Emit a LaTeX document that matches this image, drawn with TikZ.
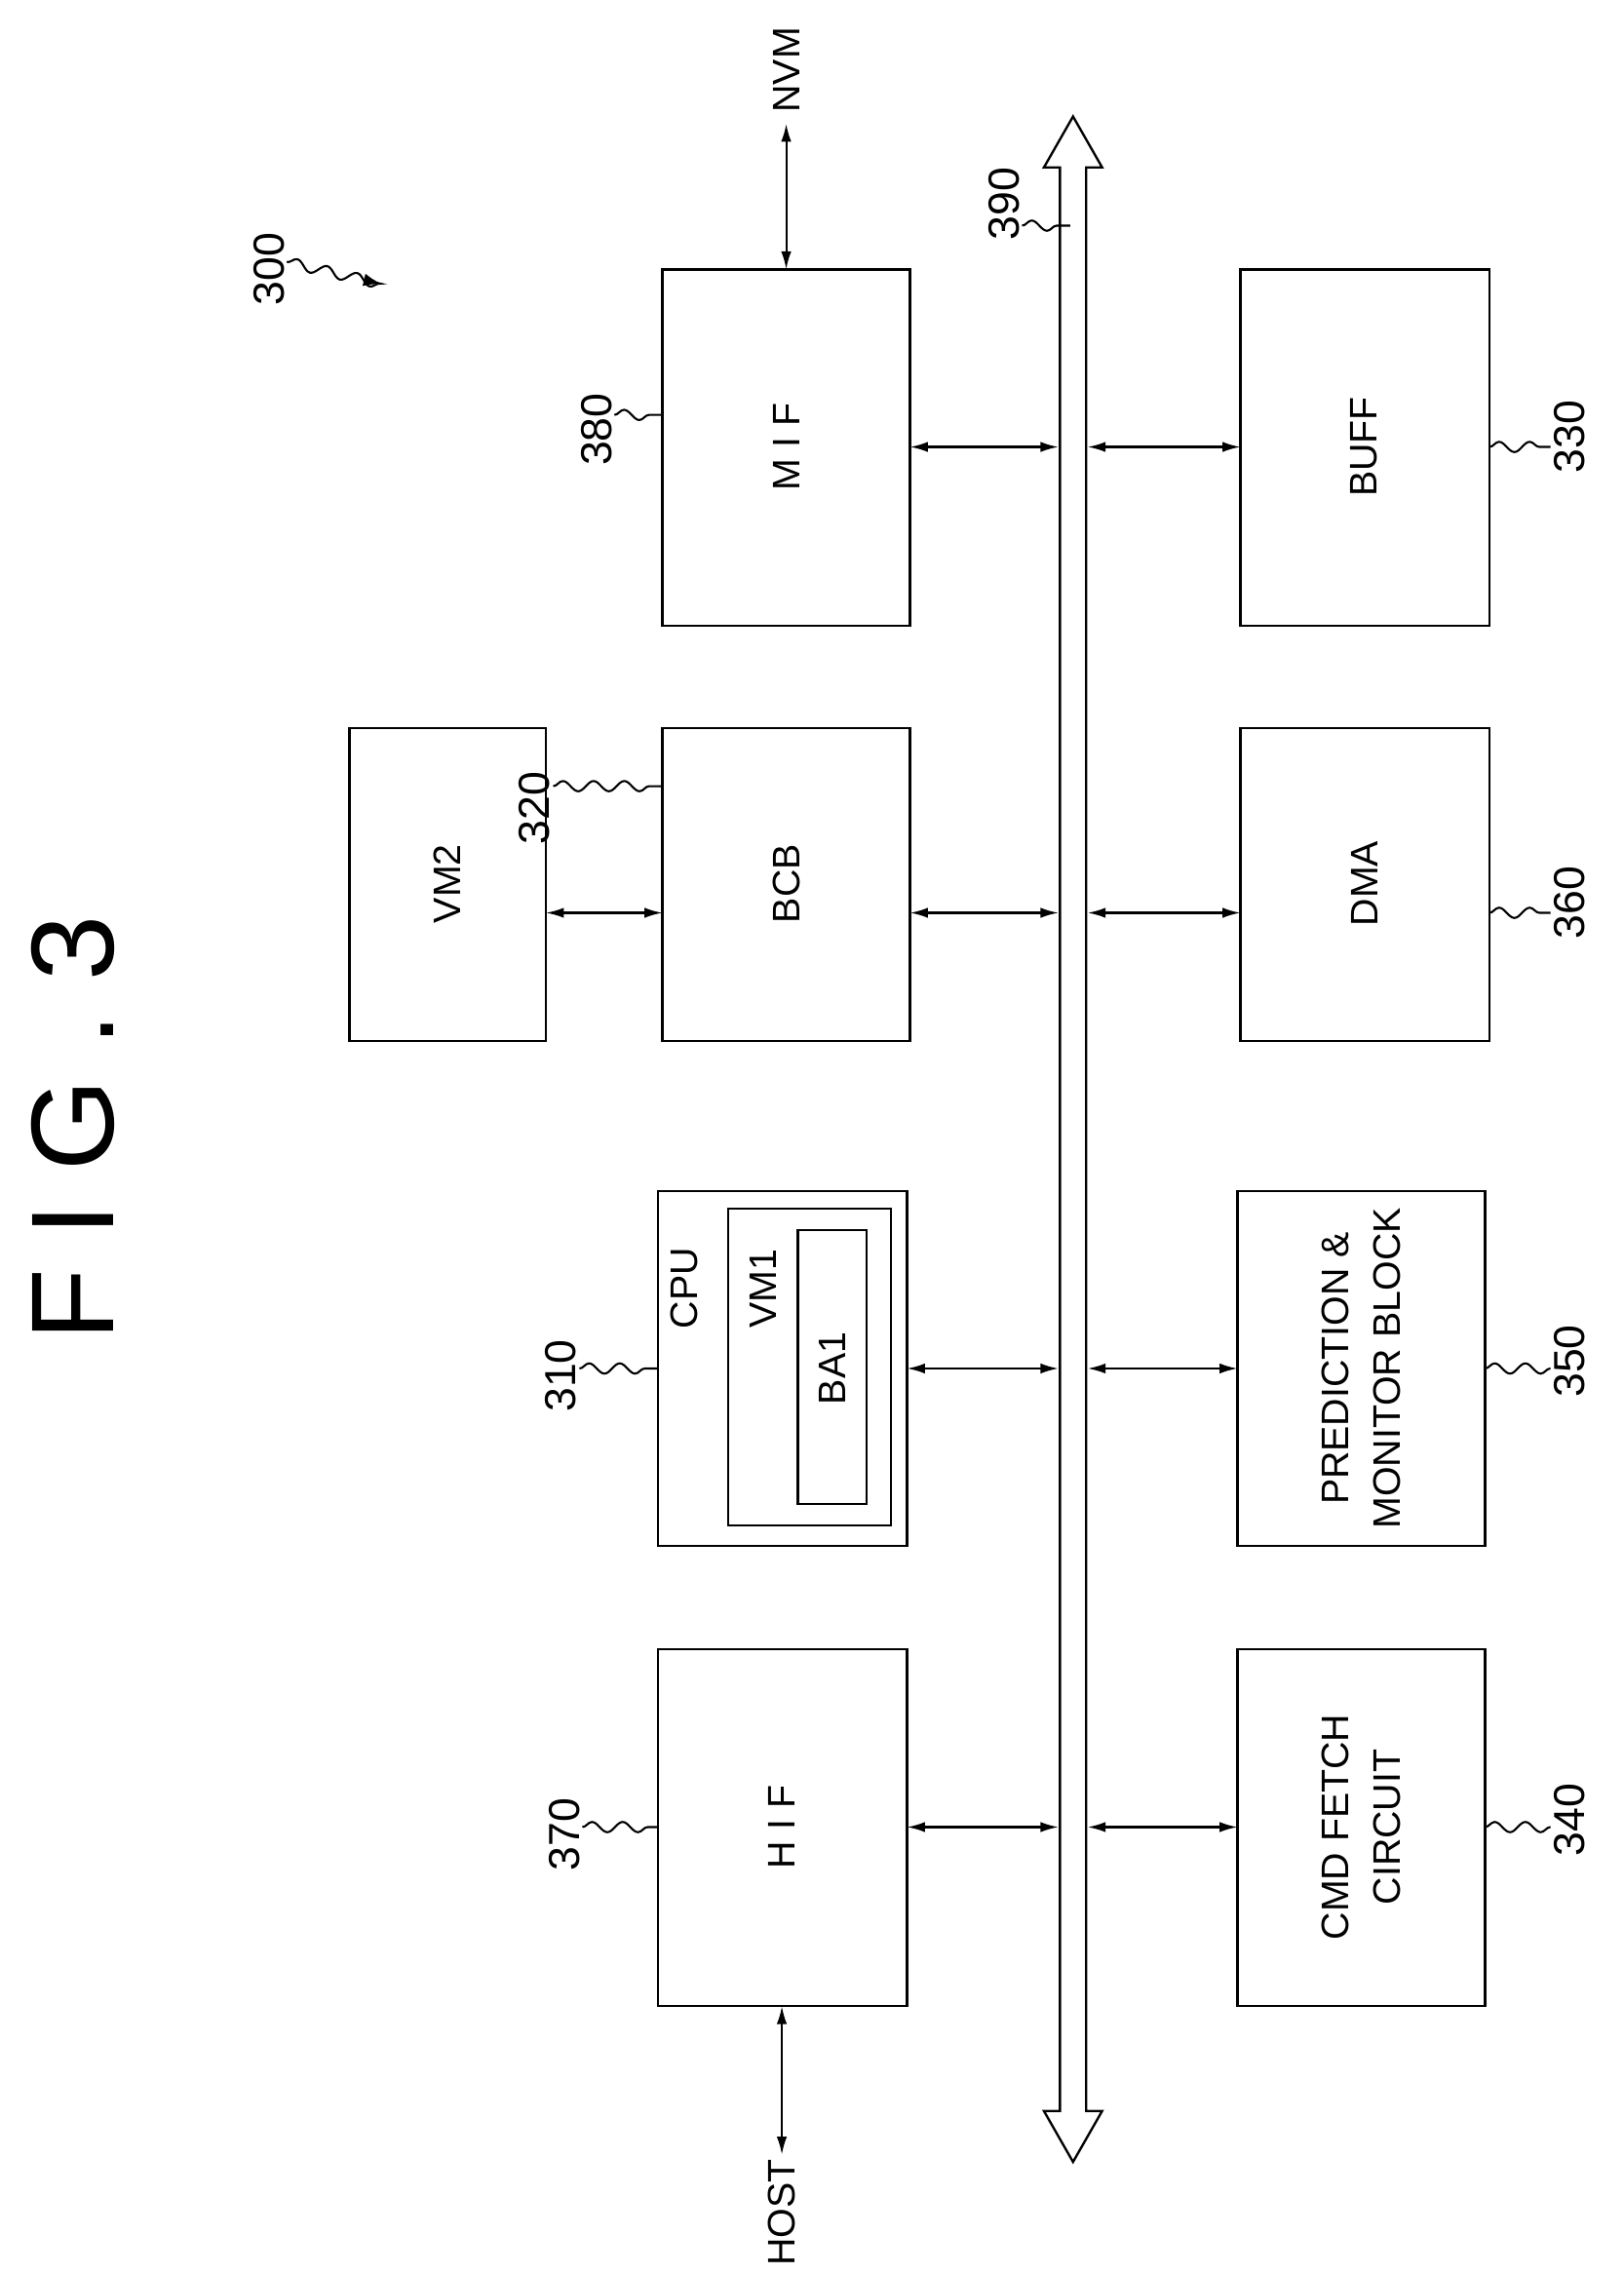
\documentclass[tikz,border=0pt]{standalone}
\usepackage{fontspec}
\setmainfont{Liberation Sans}
\usetikzlibrary{arrows.meta,decorations.pathmorphing}
\begin{document}
\begin{tikzpicture}[x=0.02cm,y=-0.02cm,
 box/.style={draw,line width=0.9pt},
 lbl/.style={rotate=90,font=\fontsize{17}{19}\selectfont},
 txt/.style={rotate=90,font=\fontsize{15}{20}\selectfont,align=center},
 arr/.style={{Latex[length=7pt,width=4pt]}-{Latex[length=7pt,width=4pt]},line width=0.8pt},
 sq/.style={decorate,decoration={snake,amplitude=2pt,segment length=12pt},line width=0.8pt}]
\useasboundingbox (0,0) rectangle (1115,1562);
\node[rotate=90,font=\fontsize{46}{50}\selectfont] (fig) at (50,775) {F I G . 3};
% boxes
\draw[box] (455,185) rectangle (625,430); \node[txt] (tmif) at (540,307) {M I F};
\draw[box] (852,185) rectangle (1023,430); \node[txt] (tbuff) at (937,307) {BUFF};
\draw[box] (240,500) rectangle (375,715); \node[txt] (tvm2) at (307,607) {VM2};
\draw[box] (455,500) rectangle (625,715); \node[txt] (tbcb) at (540,607) {BCB};
\draw[box] (852,500) rectangle (1023,715); \node[txt] (tdma) at (937,607) {DMA};
\draw[box] (452,818) rectangle (623,1062);
\draw[box] (500,830) rectangle (612,1048);
\draw[box] (548,845) rectangle (595,1033);
\node[txt] (tcpu) at (470,885) {CPU};
\node[txt] (tvm1) at (524,885) {VM1};
\node[txt] (tba1) at (572,940) {BA1};
\draw[box] (850,818) rectangle (1020,1062); \node[txt] (tpred) at (935,940) {PREDICTION \&\\MONITOR BLOCK};
\draw[box] (452,1133) rectangle (623,1378); \node[txt] (thif) at (537,1255) {H I F};
\draw[box] (850,1133) rectangle (1020,1378); \node[txt] (tcmd) at (935,1255) {CMD FETCH\\CIRCUIT};
% bus
\draw[line width=0.9pt] (737,80) -- (757,115) -- (746,115) -- (746,1450) -- (757,1450) -- (737,1485) -- (717,1450) -- (728,1450) -- (728,115) -- (717,115) -- cycle;
% arrows
\foreach \y/\a/\b in {307/625/727,627/625/727,940/623/727,1255/623/727}{\draw[arr] (\a,\y) -- (\b,\y);}
\foreach \y/\b in {307/852,627/852,940/850,1255/850}{\draw[arr] (747,\y) -- (\b,\y);}
\draw[arr] (375,627) -- (455,627);
\draw[arr] (540,185) -- (540,85);
\node[lbl,font=\fontsize{15}{17}\selectfont] (nvm) at (540,48) {NVM};
\draw[arr] (537,1378) -- (537,1480);
\node[lbl,font=\fontsize{15}{17}\selectfont] (host) at (537,1520) {HOST};
% labels
\node[lbl] (l380) at (410,295) {380}; \draw[sq] (422,285) -- (455,285);
\node[lbl] (l320) at (367,555) {320}; \draw[sq] (380,540) -- (455,540);
\node[lbl] (l310) at (385,945) {310}; \draw[sq] (398,940) -- (452,940);
\node[lbl] (l370) at (388,1260) {370}; \draw[sq] (400,1255) -- (452,1255);
\node[lbl] (l330) at (1078,300) {330}; \draw[sq] (1023,307) -- (1065,307);
\node[lbl] (l360) at (1078,620) {360}; \draw[sq] (1023,627) -- (1065,627);
\node[lbl] (l350) at (1078,935) {350}; \draw[sq] (1020,940) -- (1065,940);
\node[lbl] (l340) at (1078,1250) {340}; \draw[sq] (1020,1255) -- (1065,1255);
\node[lbl] (l390) at (690,140) {390}; \draw[sq] (702,155) -- (735,155);
\node[lbl] (l300) at (185,185) {300}; \draw[sq,-{Latex[length=7pt,width=5pt]}] (197,180) -- (262,195);
\end{tikzpicture}
\end{document}
